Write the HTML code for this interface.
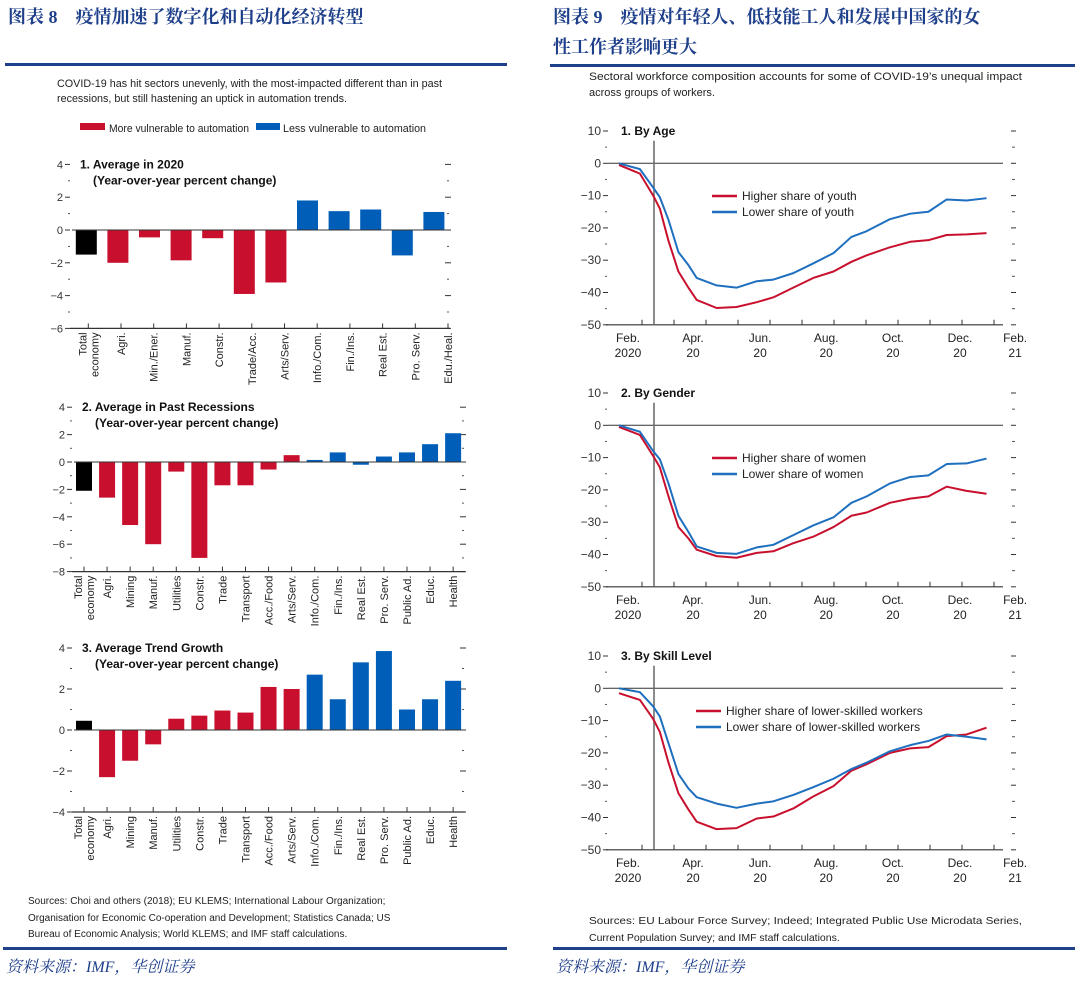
<!DOCTYPE html>
<html><head><meta charset="utf-8"><style>
html,body{margin:0;padding:0;background:#fff;}
svg{display:block;font-family:"Liberation Sans Narrow","Liberation Sans",Arial,sans-serif;}
.cn{font-family:"Liberation Serif","Noto Serif CJK SC","Noto Sans CJK SC",serif;}
</style></head><body>
<svg id="page" width="1080" height="986" viewBox="0 0 1080 986" xmlns="http://www.w3.org/2000/svg">
<g>
<text class="cn" x="8" y="23" font-size="18" font-weight="bold" fill="#1e3f8a">图表 8　疫情加速了数字化和自动化经济转型</text>
<rect x="5" y="63" width="502" height="3" fill="#1e3f8a"/>
<text x="57" y="87" font-size="11" fill="#222" textLength="385" lengthAdjust="spacingAndGlyphs">COVID-19 has hit sectors unevenly, with the most-impacted different than in past</text>
<text x="57" y="102" font-size="11" fill="#222" textLength="290" lengthAdjust="spacingAndGlyphs">recessions, but still hastening an uptick in automation trends.</text>
<g>
<rect x="80" y="123" width="25" height="7" fill="#c8102e"/>
<text x="109" y="132" font-size="11" fill="#222" textLength="140" lengthAdjust="spacingAndGlyphs">More vulnerable to automation</text>
<rect x="256" y="123" width="24" height="7" fill="#005eb8"/>
<text x="283" y="132" font-size="11" fill="#222" textLength="143" lengthAdjust="spacingAndGlyphs">Less vulnerable to automation</text>
</g>
</g>
<g>
<text class="cn" x="553" y="23" font-size="18" font-weight="bold" fill="#1e3f8a">图表 9　疫情对年轻人、低技能工人和发展中国家的女</text>
<text class="cn" x="553" y="53" font-size="18" font-weight="bold" fill="#1e3f8a">性工作者影响更大</text>
<rect x="550" y="64" width="525" height="3" fill="#1e3f8a"/>
<text x="589" y="80" font-size="11" fill="#222" textLength="433" lengthAdjust="spacingAndGlyphs">Sectoral workforce composition accounts for some of COVID-19’s unequal impact</text>
<text x="589" y="96" font-size="11" fill="#222">across groups of workers.</text>
</g>
<g id="charts"></g>
<g>
<text x="28" y="904" font-size="10" fill="#222">Sources: Choi and others (2018); EU KLEMS; International Labour Organization;</text>
<text x="28" y="921" font-size="10" fill="#222">Organisation for Economic Co-operation and Development; Statistics Canada; US</text>
<text x="28" y="937" font-size="10" fill="#222">Bureau of Economic Analysis; World KLEMS; and IMF staff calculations.</text>
<text x="589" y="924" font-size="10.5" fill="#222" textLength="433" lengthAdjust="spacingAndGlyphs">Sources: EU Labour Force Survey; Indeed; Integrated Public Use Microdata Series,</text>
<text x="589" y="941" font-size="10.5" fill="#222">Current Population Survey; and IMF staff calculations.</text>
<rect x="3" y="947" width="504" height="3" fill="#1e3f8a"/>
<rect x="553" y="947" width="522" height="3" fill="#1e3f8a"/>
<text class="cn" x="6" y="972" font-size="16" font-style="italic" fill="#1e3f8a">资料来源：IMF，华创证券</text>
<text class="cn" x="556" y="972" font-size="16" font-style="italic" fill="#1e3f8a">资料来源：IMF，华创证券</text>
</g>
</svg>
<script>
// ---- Bar chart data ----
const cats2020 = ["Total economy","Agri.","Min./Ener.","Manuf.","Constr.","Trade/Acc.","Arts/Serv.","Info./Com.","Fin./Ins.","Real Est.","Pro. Serv.","Edu./Heal."];
const vals2020 = [-1.5,-2.0,-0.45,-1.85,-0.5,-3.9,-3.2,1.8,1.15,1.25,-1.55,1.1];
const grp2020 = ["t","r","r","r","r","r","r","b","b","b","b","b"];
const catsPast = ["Total economy","Agri.","Mining","Manuf.","Utilities","Constr.","Trade","Transport","Acc./Food","Arts/Serv.","Info./Com.","Fin./Ins.","Real Est.","Pro. Serv.","Public Ad.","Educ.","Health"];
const valsPast = [-2.1,-2.6,-4.6,-6.0,-0.7,-7.0,-1.7,-1.7,-0.55,0.5,0.15,0.7,-0.2,0.4,0.7,1.3,2.1];
const valsTrend = [0.45,-2.3,-1.5,-0.7,0.55,0.7,0.95,0.85,2.1,2.0,2.7,1.5,3.3,3.85,1.0,1.5,2.4];
const grp17 = ["t","r","r","r","r","r","r","r","r","r","b","b","b","b","b","b","b"];
const ticks2020 = [4,2,0,-2,-4,-6];
const ticksPast = [4,2,0,-2,-4,-6,-8];
const ticksTrend = [4,2,0,-2,-4];
// ---- Line chart data ----
const months = [0,0.63,1.03,1.23,1.49,1.79,2.09,2.34,2.94,3.54,4.15,4.65,5.25,5.85,6.46,7.0,7.46,8.16,8.77,9.32,9.87,10.47,11.07];
const youthHigh = [-0.5,-3.2,-10,-14,-24,-33.5,-38.5,-42.3,-44.8,-44.5,-43,-41.5,-38.5,-35.5,-33.5,-30.5,-28.5,-26,-24.3,-23.8,-22.2,-22,-21.6];
const youthLow = [0,-1.8,-7.5,-10.5,-17.5,-27.5,-31.5,-35.5,-37.8,-38.5,-36.5,-36,-34,-31,-27.8,-22.8,-21,-17.3,-15.6,-15,-11.2,-11.5,-10.8];
const womenHigh = [-0.5,-3,-9.5,-13,-22,-31.5,-35,-38.5,-40.5,-41,-39.5,-39,-36.5,-34.5,-31.5,-28,-27,-24,-22.7,-22,-19,-20.3,-21.2];
const womenLow = [0,-2,-8,-10.5,-18,-28,-33,-37.5,-39.5,-39.8,-37.8,-37,-34,-31,-28.5,-24,-22,-18,-16,-15.5,-12,-11.8,-10.3];
const skillHigh = [-1.5,-3.6,-9.5,-13.5,-23,-32.5,-37.5,-41.3,-43.6,-43.3,-40.3,-39.7,-37.2,-33.5,-30.3,-25.5,-23.5,-20,-18.6,-18.2,-14.8,-14.3,-12.2];
const skillLow = [0,-1.2,-5.6,-8.7,-17,-26.5,-31,-33.7,-35.7,-37,-35.7,-35,-33,-30.6,-28,-25,-23,-19.5,-17.6,-16.3,-14.3,-15,-15.8];
const yTicksLine = [10,0,-10,-20,-30,-40,-50];
const monthLabels1 = ["Feb.","Apr.","Jun.","Aug.","Oct.","Dec.","Feb."];
const monthLabels2 = ["2020","20","20","20","20","20","21"];
const monthLabelPos = [0.27,2.23,4.25,6.24,8.25,10.27,11.93];

const NS="http://www.w3.org/2000/svg";
const root=document.getElementById('charts');
function mk(tag,attrs,parent){const e=document.createElementNS(NS,tag);for(const k in attrs)e.setAttribute(k,attrs[k]);(parent||root).appendChild(e);return e;}
const COL={t:"#000",r:"#c8102e",b:"#005eb8"};

function barChart(c){
  const g=mk('g',{});
  
  
  const y=v=>c.zero-v*c.ppu;
  const yMin=y(c.ticks[c.ticks.length-1]);
  c.ticks.forEach(t=>{
    const l=mk('line',{x1:c.xl-7,x2:c.xl-2,y1:y(t),y2:y(t),stroke:"#333","stroke-width":1},g);
    
    
    const r=mk('line',{x1:c.xr-5,x2:c.xr+1,y1:y(t),y2:y(t),stroke:"#333","stroke-width":1},g);
    
    
    const tx=mk('text',{x:c.xl-9,y:y(t)+4,"font-size":11,"text-anchor":"end",fill:"#333"},g);
    tx.textContent=(t<0?"\u2212"+(-t):String(t));
    
    
  });
  for(let i=0;i<c.ticks.length-1;i++){
    const m=(c.ticks[i]+c.ticks[i+1])/2;
    mk('line',{x1:c.xl-4,x2:c.xl-2,y1:y(m),y2:y(m),stroke:"#555"},g);
    mk('line',{x1:c.xr-3,x2:c.xr-1,y1:y(m),y2:y(m),stroke:"#555"},g);
  }
  c.vals.forEach((v,i)=>{
    const cx=c.b0+i*c.bs;
    const b=mk('rect',{x:cx-c.bw/2,y:Math.min(y(v),c.zero),width:c.bw,height:Math.abs(y(v)-c.zero),fill:COL[c.grp[i]]},g);
    
    
  });
  mk('line',{x1:c.xl,x2:c.xr,y1:c.zero,y2:c.zero,stroke:"#333","stroke-width":1},g);
  const ax=mk('line',{x1:c.xl-2,x2:c.xr,y1:yMin,y2:yMin,stroke:"#333","stroke-width":1.2},g);
  
  
  c.cats.forEach((cat,i)=>{
    const lx=c.l0+i*c.ls;
    mk('line',{x1:lx,x2:lx,y1:yMin,y2:yMin-5,stroke:"#333"},g);
    const parts=cat==="Total economy"?["Total","economy"]:[cat];
    parts.forEach((p,j)=>{
      const off=(parts.length===2)?(j===0?-6:6):0;
      const t=mk('text',{x:0,y:0,"font-size":11,"text-anchor":"end",fill:"#222",transform:`translate(${lx+4+off},${yMin+4}) rotate(-90)`},g);
      t.textContent=p;
      
      
    });
  });
  const t1=mk('text',{x:c.xl+8,y:y(c.ticks[0])+4,"font-size":12,"font-weight":"bold",fill:"#111"},g);
  t1.textContent=c.title;
  
  
  const t2=mk('text',{x:c.xl+21,y:y(c.ticks[0])+20,"font-size":12,"font-weight":"bold",fill:"#111"},g);
  t2.textContent="(Year-over-year percent change)";
  
  
}
barChart({name:"chart-average-2020",cats:cats2020,vals:vals2020,grp:grp2020,ticks:ticks2020,zero:230,ppu:16.4,xl:72,xr:450,b0:86.3,bs:31.6,bw:21,l0:88.3,ls:32.7,title:"1. Average in 2020"});
barChart({name:"chart-past-recessions",cats:catsPast,vals:valsPast,grp:grp17,ticks:ticksPast,zero:462,ppu:13.7,xl:74,xr:465,b0:84,bs:23.07,bw:16,l0:84,ls:23.07,title:"2. Average in Past Recessions"});
barChart({name:"chart-trend-growth",cats:catsPast,vals:valsTrend,grp:grp17,ticks:ticksTrend,zero:730,ppu:20.5,xl:74,xr:465,b0:84,bs:23.07,bw:16,l0:84,ls:23.07,title:"3. Average Trend Growth"});

function lineChart(c){
  const g=mk('g',{});
  
  
  const x=m=>619+m*33.2;
  const y=v=>c.y10+(10-v)*3.23;
  const xl=608,xr=1003;
  yTicksLine.forEach(t=>{
    mk('line',{x1:xl-5,x2:xl,y1:y(t),y2:y(t),stroke:"#333"},g);
    mk('line',{x1:xr+8,x2:xr+13,y1:y(t),y2:y(t),stroke:"#333"},g);
    const tx=mk('text',{x:xl-7,y:y(t)+4,"font-size":12,"text-anchor":"end",fill:"#333"},g);
    tx.textContent=(t<0?"\u2212"+(-t):String(t));
    
    
  });
  for(let i=0;i<yTicksLine.length-1;i++){
    const m=yTicksLine[i]-5;
    mk('line',{x1:xl-3,x2:xl-1,y1:y(m),y2:y(m),stroke:"#555"},g);
    mk('line',{x1:xr+9,x2:xr+12,y1:y(m),y2:y(m),stroke:"#555"},g);
  }
  mk('line',{x1:xl,x2:xr,y1:y(0),y2:y(0),stroke:"#333","stroke-width":1},g);
  const ax=mk('line',{x1:xl-2,x2:xr,y1:y(-50),y2:y(-50),stroke:"#333","stroke-width":1.2},g);
  
  
  for(let k=0;k<12;k++){const tx=642+k*32;mk('line',{x1:tx,x2:tx,y1:y(-50),y2:y(-50)-5,stroke:"#333"},g);}
  const vl=mk('line',{x1:654,x2:654,y1:y(7),y2:y(-50),stroke:"#666","stroke-width":1.5},g);
  
  
  monthLabels1.forEach((lab,i)=>{
    const a=mk('text',{x:x(monthLabelPos[i]),y:y(-50)+17,"font-size":12,"text-anchor":"middle",fill:"#222"},g);
    a.textContent=lab;
    
    
    const b=mk('text',{x:x(monthLabelPos[i]),y:y(-50)+32,"font-size":12,"text-anchor":"middle",fill:"#222"},g);
    b.textContent=monthLabels2[i];
    
    
  });
  [[c.hi,"#c8102e",c.hiName],[c.lo,"#1f6fbf",c.loName]].forEach(([arr,col,nm])=>{
    const p=mk('polyline',{points:arr.map((v,i)=>x(months[i])+","+y(v)).join(" "),fill:"none",stroke:col,"stroke-width":2,"stroke-linejoin":"round"},g);
    
    
  });
  const t=mk('text',{x:621,y:y(10)+4,"font-size":12,"font-weight":"bold",fill:"#111"},g);
  t.textContent=c.title;
  
  
  [[c.hiName,"#c8102e",0],[c.loName,"#1f6fbf",16]].forEach(([nm,col,dy])=>{
    mk('line',{x1:c.lgx,x2:c.lgx+25,y1:c.lgy+dy,y2:c.lgy+dy,stroke:col,"stroke-width":2.5},g);
    const lt=mk('text',{x:c.lgx+30,y:c.lgy+dy+4,"font-size":12,fill:"#222"},g);
    lt.textContent=nm;
    
    
  });
}
lineChart({name:"chart-by-age",y10:131,hi:youthHigh,lo:youthLow,hiName:"Higher share of youth",loName:"Lower share of youth",title:"1. By Age",lgx:712,lgy:196});
lineChart({name:"chart-by-gender",y10:393,hi:womenHigh,lo:womenLow,hiName:"Higher share of women",loName:"Lower share of women",title:"2. By Gender",lgx:712,lgy:458});
lineChart({name:"chart-by-skill",y10:656,hi:skillHigh,lo:skillLow,hiName:"Higher share of lower-skilled workers",loName:"Lower share of lower-skilled workers",title:"3. By Skill Level",lgx:696,lgy:711});
</script>
</body></html>
